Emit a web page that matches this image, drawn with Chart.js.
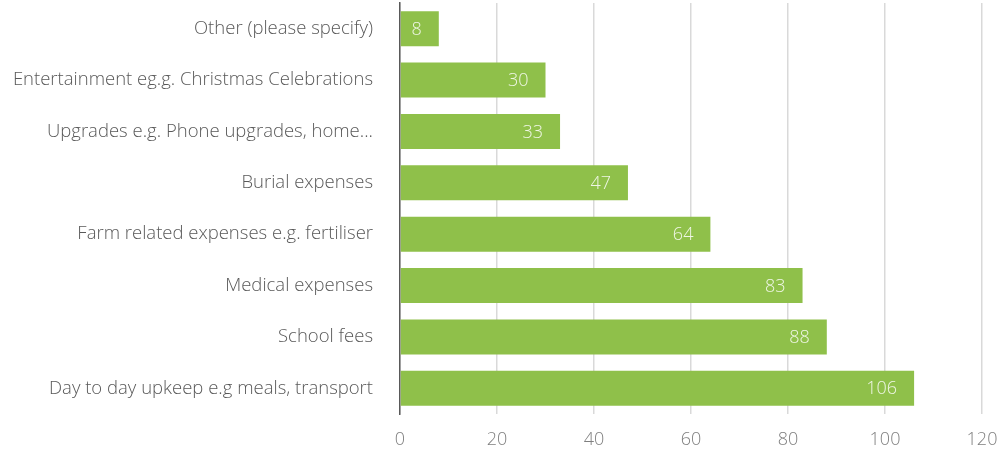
<!DOCTYPE html>
<html>
<head>
<meta charset="utf-8">
<script src="https://cdn.jsdelivr.net/npm/chart.js@4"></script>
<style>
  html, body { margin: 0; padding: 0; background: #fff; }
  #wrap { width: 997px; height: 454px; }
</style>
</head>
<body>
<div id="wrap"><canvas id="chart"></canvas></div>
<script>
// survey answers, top to bottom
const categories = [
  "Other (please specify)",
  "Entertainment eg.g. Christmas Celebrations",
  "Upgrades e.g. Phone upgrades, home...",
  "Burial expenses",
  "Farm related expenses e.g. fertiliser",
  "Medical expenses",
  "School fees",
  "Day to day upkeep e.g meals, transport"
];
const counts = [8, 30, 33, 47, 64, 83, 88, 106];
const xTicks = [0, 20, 40, 60, 80, 100, 120];

const FONT = "'Open Sans', sans-serif";

// white value text just inside the end of each bar
const valueLabels = {
  id: "valueLabels",
  afterDatasetsDraw(chart) {
    const ctx = chart.ctx;
    const meta = chart.getDatasetMeta(0);
    ctx.save();
    ctx.font = "300 18px " + FONT;
    ctx.fillStyle = "rgba(255,255,255,0.85)";
    ctx.textAlign = "right";
    ctx.textBaseline = "middle";
    meta.data.forEach((bar, i) => {
      ctx.fillText(String(counts[i]), bar.x - 17, bar.y + 1);
    });
    ctx.restore();
  }
};

new Chart(document.getElementById("chart"), {
  type: "bar",
  data: {
    labels: categories,
    datasets: [{
      data: counts,
      backgroundColor: "#8fc04a",
      borderWidth: 0,
      barPercentage: 0.68,
      categoryPercentage: 1
    }]
  },
  options: {
    indexAxis: "y",
    responsive: true,
    maintainAspectRatio: false,
    animation: false,
    layout: { padding: { top: 3, right: 15, left: 0, bottom: 0 } },
    plugins: {
      legend: { display: false },
      tooltip: { enabled: false }
    },
    scales: {
      x: {
        min: 0,
        max: 120,
        afterBuildTicks: (scale) => { scale.ticks = xTicks.map(v => ({ value: v })); },
        afterFit: (scale) => {
          scale.height = 40;
          scale.paddingLeft = 0;
          scale.paddingRight = 0;
        },
        grid: { color: "#d9d9d9", lineWidth: 1.5, drawTicks: false },
        border: { display: false },
        ticks: {
          padding: 15,
          color: "#7f7f7f",
          font: { family: FONT, size: 18, weight: 300 }
        }
      },
      y: {
        afterFit: (scale) => {
          scale.width = 400;
          scale.paddingTop = 0;
          scale.paddingBottom = 0;
        },
        grid: { display: false, drawTicks: false },
        border: { display: true, color: "#595959", width: 1.5 },
        ticks: {
          padding: 27,
          color: "#595959",
          font: { family: FONT, size: 18.5, weight: 300 }
        }
      }
    }
  },
  plugins: [valueLabels]
});
</script>
</body>
</html>
